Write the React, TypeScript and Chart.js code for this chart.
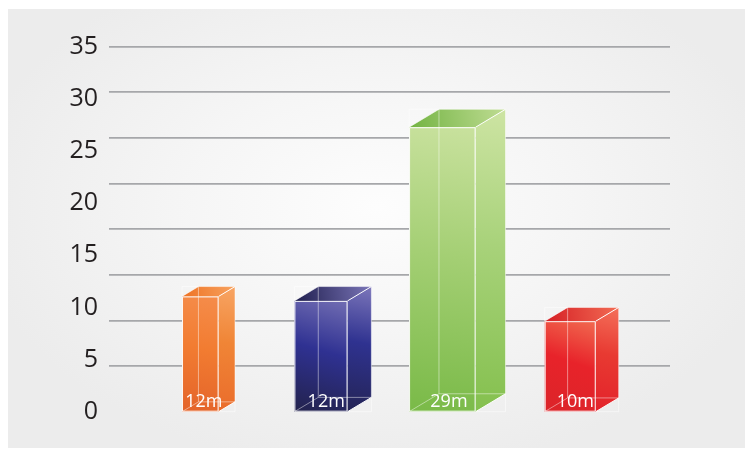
import { useEffect, useRef } from "react";
import { Chart, registerables } from "chart.js";

Chart.register(...registerables);

// ---- data ----
const categories = ["Orange", "Blue", "Green", "Red"];
const values = [12, 12, 29, 10];
const valueLabels = ["12m", "12m", "29m", "10m"];
const yTickValues = [0, 5, 10, 15, 20, 25, 30, 35];
const gridDivisions = 8;

// ---- styles ----
const barStyles = [
  {
    pct: 0.426,
    front: ["#f58c4a", "#f27c31", "#e4642a"],
    side: ["#f8a564", "#f08536", "#ea6c2b"],
    top: ["#ee7224", "#f7a25e"],
  },
  {
    pct: 0.619,
    front: ["#6e6ab1", "#2f3192", "#23234f"],
    side: ["#7c76ba", "#2f3290", "#242455"],
    top: ["#1f1e4d", "#7a75b8"],
  },
  {
    pct: 0.775,
    front: ["#c8e19d", "#a4cf74", "#7aba48"],
    side: ["#cde4a3", "#a8d27a", "#84c04e"],
    top: ["#72b342", "#bfdc93"],
  },
  {
    pct: 0.595,
    front: ["#f0654d", "#e8232a", "#dc2429"],
    side: ["#f4705a", "#e83a32", "#e3222a"],
    top: ["#d51e24", "#f26c54"],
  },
];

const FONT = "'Open Sans', 'DejaVu Sans', sans-serif";

const box3d = {
  id: "box3d",
  afterDatasetsDraw(chart: any) {
    const ctx: CanvasRenderingContext2D = chart.ctx;
    chart.data.datasets.forEach((_ds: any, di: number) => {
      const meta = chart.getDatasetMeta(di);
      const st = barStyles[di];
      meta.data.forEach((el: any) => {
        const { x, y, base, width } = el.getProps(["x", "y", "base", "width"], true);
        const left = x - width / 2;
        const fw = width * 0.69;
        const dx = width - fw;
        const dy = dx * 0.6;
        const ft = y + dy; // front top
        ctx.save();

        // front face
        let g = ctx.createLinearGradient(left + fw * 0.8, ft, left + fw * 0.2, base);
        g.addColorStop(0, st.front[0]);
        g.addColorStop(0.45, st.front[1]);
        g.addColorStop(1, st.front[2]);
        ctx.fillStyle = g;
        ctx.fillRect(left, ft, fw, base - ft);

        // side face
        g = ctx.createLinearGradient(left + fw + dx, y, left + fw, base);
        g.addColorStop(0, st.side[0]);
        g.addColorStop(0.45, st.side[1]);
        g.addColorStop(1, st.side[2]);
        ctx.fillStyle = g;
        ctx.beginPath();
        ctx.moveTo(left + fw, ft);
        ctx.lineTo(left + fw + dx, y);
        ctx.lineTo(left + fw + dx, base - dy);
        ctx.lineTo(left + fw, base);
        ctx.closePath();
        ctx.fill();

        // top face
        g = ctx.createLinearGradient(left, ft, left + width, y);
        g.addColorStop(0, st.top[0]);
        g.addColorStop(1, st.top[1]);
        ctx.fillStyle = g;
        ctx.beginPath();
        ctx.moveTo(left, ft);
        ctx.lineTo(left + dx, y);
        ctx.lineTo(left + dx + fw, y);
        ctx.lineTo(left + fw, ft);
        ctx.closePath();
        ctx.fill();

        // hidden back edges
        ctx.lineWidth = 1;
        ctx.strokeStyle = "rgba(255,255,255,0.45)";
        ctx.beginPath();
        ctx.moveTo(left + dx, y);
        ctx.lineTo(left + dx, base - dy);
        ctx.lineTo(left + width, base - dy);
        ctx.moveTo(left, base);
        ctx.lineTo(left + dx, base - dy);
        ctx.stroke();

        // bounding frame
        ctx.strokeStyle = "rgba(255,255,255,0.5)";
        ctx.beginPath();
        ctx.moveTo(left, ft);
        ctx.lineTo(left, y);
        ctx.lineTo(left + width, y);
        ctx.lineTo(left + width, base);
        ctx.lineTo(left + fw, base);
        ctx.stroke();

        // visible edges
        ctx.strokeStyle = "rgba(255,255,255,0.95)";
        ctx.beginPath();
        ctx.rect(left + 0.5, ft + 0.5, fw - 1, base - ft - 1);
        ctx.moveTo(left + fw, ft);
        ctx.lineTo(left + fw + dx, y);
        ctx.moveTo(left + fw, base);
        ctx.lineTo(left + fw + dx, base - dy);
        ctx.stroke();
        ctx.strokeStyle = "rgba(255,255,255,0.6)";
        ctx.beginPath();
        ctx.moveTo(left, ft);
        ctx.lineTo(left + dx, y);
        ctx.stroke();

        // value label
        ctx.fillStyle = "#ffffff";
        ctx.font = `18px ${FONT}`;
        ctx.textAlign = "center";
        ctx.textBaseline = "alphabetic";
        ctx.fillText(valueLabels[di], left + fw / 2 + dx * 0.22, base - 5);
        ctx.restore();
      });
    });
  },
};

export default function App() {
  const ref = useRef<HTMLCanvasElement>(null);

  useEffect(() => {
    if (!ref.current) return;
    const chart = new Chart(ref.current, {
      type: "bar",
      data: {
        datasets: categories.map((c, i) => ({
          label: c,
          data: [{ x: i, y: values[i] }],
          backgroundColor: "rgba(0,0,0,0)",
          borderWidth: 0,
          barPercentage: barStyles[i].pct,
          categoryPercentage: 1,
          grouped: false,
        })),
      } as any,
      options: {
        animation: false,
        responsive: true,
        maintainAspectRatio: false,
        layout: { padding: { left: 8, right: 75, top: 37.7, bottom: 36.3 } },
        plugins: { legend: { display: false }, tooltip: { enabled: false } },
        scales: {
          x: {
            type: "linear",
            min: -0.8,
            max: 3.71,
            offset: false,
            display: false,
            afterBuildTicks: (s: any) => {
              s.ticks = categories.map((_c, i) => ({ value: i }));
            },
          },
          y: {
            min: 0,
            max: 35,
            afterBuildTicks: (s: any) => {
              s.ticks = yTickValues.map((v) => ({ value: v }));
            },
            afterFit: (s: any) => {
              s.width = 93;
            },
            grid: { display: false, drawTicks: false },
            border: { display: false },
            ticks: {
              padding: 11,
              color: "#231f20",
              font: { family: FONT, size: 25 },
            },
          },
          y2: {
            position: "right",
            min: 0,
            max: gridDivisions,
            afterFit: (s: any) => {
              s.width = 0;
            },
            ticks: { display: false, stepSize: 1 },
            border: { display: false },
            grid: {
              drawTicks: false,
              lineWidth: 1.8,
              color: (c: any) => (c.tick && c.tick.value === 0 ? "rgba(0,0,0,0)" : "#a6a7aa"),
            },
          },
        },
      } as any,
      plugins: [box3d],
    });
    return () => chart.destroy();
  }, []);

  return (
    <div
      style={{
        position: "fixed",
        left: 8,
        top: 9,
        width: 737,
        height: 439,
        background:
          "radial-gradient(ellipse 55% 60% at 50% 45%, #fdfdfd 0%, #f5f5f5 50%, #ececec 100%)",
      }}
    >
      <canvas ref={ref} />
    </div>
  );
}
